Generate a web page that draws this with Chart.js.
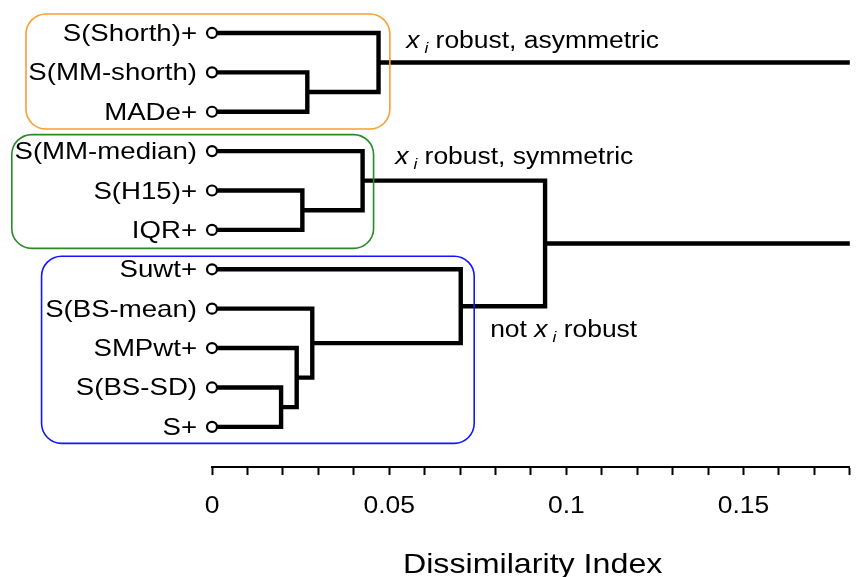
<!DOCTYPE html>
<html>
<head>
<meta charset="utf-8">
<script src="https://cdn.jsdelivr.net/npm/chart.js@4"></script>
<style>
  body { margin: 0; background: #fff; }
  canvas { display: block; }
</style>
</head>
<body>
<canvas id="dendro" width="857" height="577"></canvas>
<script>
// leaves, top to bottom
const leafNames = ['S(Shorth)+', 'S(MM-shorth)', 'MADe+', 'S(MM-median)', 'S(H15)+', 'IQR+',
                   'Suwt+', 'S(BS-mean)', 'SMPwt+', 'S(BS-SD)', 'S+'];

// merges: node 11 is the first merge, 12 the second, ...
const leftChild   = [1, 4, 9, 8, 7, 0, 3, 6, 17, 16];
const rightChild  = [2, 5, 10, 13, 14, 11, 12, 15, 18, 19];
const mergeHeight = [0.0269, 0.0255, 0.0195, 0.0239, 0.0283, 0.0470, 0.0425, 0.0702, 0.0940, 0.2];

const tickLabels = ['0', '0.05', '0.1', '0.15'];
const tickValues = [0, 0.05, 0.1, 0.15];

// fonts are a bit wide in this figure
const SX = 1.15;
const FONT = 'Liberation Sans, Arial, sans-serif';

// node positions
const nodeX = leafNames.map(() => 0);
const nodeY = leafNames.map((_, i) => i);
const links = [];
leftChild.forEach((a, k) => {
  const b = rightChild[k];
  const h = mergeHeight[k];
  links.push({
    data: [
      { x: nodeX[a], y: nodeY[a] },
      { x: h, y: nodeY[a] },
      { x: h, y: nodeY[b] },
      { x: nodeX[b], y: nodeY[b] }
    ],
    showLine: true,
    borderColor: '#000',
    borderWidth: 4.4,
    borderCapStyle: 'butt',
    borderJoinStyle: 'miter',
    pointRadius: 0,
    order: 2
  });
  nodeX.push(h);
  nodeY.push((nodeY[a] + nodeY[b]) / 2);
});

const leafPoints = {
  data: leafNames.map((_, i) => ({ x: 0, y: i })),
  showLine: false,
  pointRadius: 5,
  pointBorderWidth: 2.2,
  pointBackgroundColor: '#fff',
  pointBorderColor: '#000',
  clip: false,
  order: 1
};

// cluster frames (x in index units, y in leaf units)
const boxes = [
  { x0: -0.0525, x1: 0.0502, y0: -0.48, y1: 2.44, color: '#f5a12e' },
  { x0: -0.0565, x1: 0.0456, y0: 2.58, y1: 5.47, color: '#2a8a26' },
  { x0: -0.0481, x1: 0.0740, y0: 5.67, y1: 10.42, color: '#1414ff' }
];

// group notes: x, baseline (leaf units), parts
const notes = [
  { x: 0.0548, y: 0.37, parts: [['x', 'it'], ['i', 'sub'], [' robust, asymmetric', '']] },
  { x: 0.0517, y: 3.33, parts: [['x', 'it'], ['i', 'sub'], [' robust, symmetric', '']] },
  { x: 0.0785, y: 7.72, parts: [['not ', ''], ['x', 'it'], ['i', 'sub'], [' robust', '']] }
];

function wideText(ctx, text, x, y, font, align) {
  ctx.save();
  ctx.font = font;
  ctx.textAlign = align;
  ctx.textBaseline = 'alphabetic';
  ctx.translate(x, y);
  ctx.scale(SX, 1);
  ctx.fillText(text, 0, 0);
  ctx.restore();
}

function richText(ctx, parts, x, y) {
  let cx = x;
  parts.forEach(([t, style]) => {
    let font = '23px ' + FONT, dy = 0;
    if (style === 'it') font = 'italic 23px ' + FONT;
    if (style === 'sub') { font = 'italic 15px ' + FONT; dy = 5; cx += 5; }
    ctx.font = font;
    wideText(ctx, t, cx, y + dy, font, 'left');
    cx += ctx.measureText(t).width * SX;
  });
}

const textPlugin = {
  id: 'dendroText',
  afterDatasetsDraw(chart) {
    const ctx = chart.ctx;
    const xs = chart.scales.x, ys = chart.scales.y;
    ctx.fillStyle = '#000';

    // leaf names
    const lx = xs.getPixelForValue(0) - 15;
    leafNames.forEach((name, i) => {
      wideText(ctx, name, lx, ys.getPixelForValue(i) + 8, '24px ' + FONT, 'right');
    });

    // notes
    notes.forEach(n => richText(ctx, n.parts, xs.getPixelForValue(n.x), ys.getPixelForValue(n.y)));

    // frames
    boxes.forEach(b => {
      const l = xs.getPixelForValue(b.x0), r = xs.getPixelForValue(b.x1);
      const t = ys.getPixelForValue(b.y0), btm = ys.getPixelForValue(b.y1);
      ctx.save();
      ctx.strokeStyle = b.color;
      ctx.lineWidth = 1.6;
      ctx.beginPath();
      ctx.roundRect(l, t, r - l, btm - t, 20);
      ctx.stroke();
      ctx.restore();
    });
  },
  afterDraw(chart) {
    const ctx = chart.ctx;
    const xs = chart.scales.x;
    ctx.fillStyle = '#000';
    tickValues.forEach((v, i) => {
      wideText(ctx, tickLabels[i], xs.getPixelForValue(v), 513, '23px ' + FONT, 'center');
    });
    wideText(ctx, 'Dissimilarity Index', xs.getPixelForValue(0.0905), 573, '28px ' + FONT, 'center');
  }
};

new Chart(document.getElementById('dendro').getContext('2d'), {
  type: 'scatter',
  data: { datasets: [...links, leafPoints] },
  options: {
    responsive: false,
    animation: false,
    layout: { padding: { left: 212, right: 1, top: 0, bottom: 0 } },
    plugins: { legend: { display: false }, tooltip: { enabled: false } },
    scales: {
      x: {
        type: 'linear',
        min: 0,
        max: 0.18,
        afterFit: s => { s.height = 110; },
        ticks: { stepSize: 0.01, display: false },
        grid: { display: true, drawOnChartArea: false, drawTicks: true, tickLength: 8, tickWidth: 2, tickColor: '#000' },
        border: { display: true, width: 2, color: '#000' }
      },
      y: {
        type: 'linear',
        display: false,
        reverse: true,
        min: -0.654,
        max: 11.02
      }
    }
  },
  plugins: [textPlugin]
});
</script>
</body>
</html>
